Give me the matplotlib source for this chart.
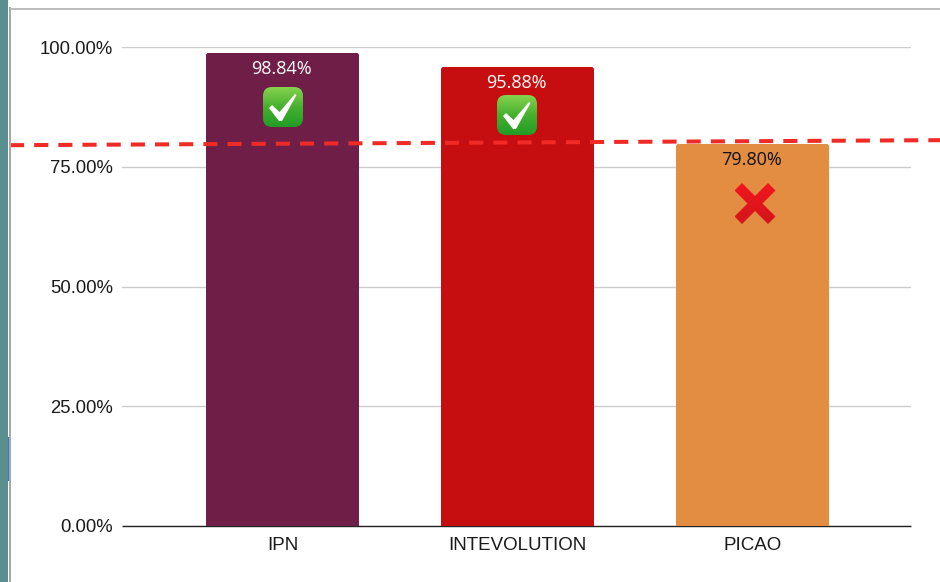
import numpy as np
import matplotlib
matplotlib.use("Agg")
import matplotlib.pyplot as plt
from matplotlib.patches import FancyBboxPatch, Rectangle, Polygon
from matplotlib.path import Path
from matplotlib.colors import LinearSegmentedColormap

categories = ["IPN", "INTEVOLUTION", "PICAO"]
values = [98.84, 95.88, 79.80]
value_labels = ["98.84%", "95.88%", "79.80%"]
bar_colors = ["#6f1f47", "#c60d10", "#e28d41"]
label_colors = ["white", "white", "#111111"]
y_ticks = [0, 25, 50, 75, 100]
y_tick_labels = ["0.00%", "25.00%", "50.00%", "75.00%", "100.00%"]
threshold_ends = [79.5, 80.55]
checks = [(283, 107), (517, 115)]
cross = (755, 203.5)

W, H = 940, 582
fig = plt.figure(figsize=(W / 100, H / 100), dpi=100, facecolor="white")
ax = fig.add_axes([122 / W, 1 - 526 / H, (911 - 122) / W, 479 / H])
ax.set_xlim(-160.5 / 235, 2 + 158.5 / 235)
ax.set_ylim(0, 100)
ax.set_facecolor("white")

bars = ax.bar(range(3), values, width=153 / 235, color=bar_colors, zorder=3)
# rounded top corners (3 px radius) via clip paths in data units
rx, ry = 3 / 235, 3 / 4.79
for b in bars:
    x0, x1, top = b.get_x(), b.get_x() + b.get_width(), b.get_height()
    verts = [(x0, 0), (x0, top - ry), (x0, top), (x0 + rx, top), (x1 - rx, top),
             (x1, top), (x1, top - ry), (x1, 0), (x0, 0)]
    codes = [Path.MOVETO, Path.LINETO, Path.CURVE3, Path.CURVE3, Path.LINETO,
             Path.CURVE3, Path.CURVE3, Path.LINETO, Path.CLOSEPOLY]
    b.set_clip_path(Path(verts, codes), ax.transData)

for i, (v, t, c) in enumerate(zip(values, value_labels, label_colors)):
    ax.annotate(t, (i, v), xytext=(-0.5, -16.5 * 0.72), textcoords="offset points",
                ha="center", va="center", color=c, fontsize=13,
                family="Open Sans", zorder=5)

ax.set_yticks(y_ticks, y_tick_labels)
ax.set_xticks(range(3), categories)
ax.tick_params(axis="both", length=0, labelsize=13.3, labelcolor="#1a1a1a")
ax.tick_params(axis="y", pad=6.5)
ax.tick_params(axis="x", pad=8.2, labelsize=13.5)
for lab in ax.get_xticklabels() + ax.get_yticklabels():
    lab.set_family("Liberation Sans")
for lab in ax.get_xticklabels():
    lab.set_x(lab.get_position()[0])
ax.grid(axis="y", color="#cccccc", lw=1, zorder=0)
ax.grid(axis="x", visible=False)
ax.set_axisbelow(True)
for s in ["top", "right", "left"]:
    ax.spines[s].set_visible(False)
ax.spines["bottom"].set_color("#222222")
ax.spines["bottom"].set_linewidth(1)
ax.spines["bottom"].set_capstyle("butt")

# threshold line, runs past the plot area
ax.plot([(10 - 122) / 789, (940 - 122) / 789], threshold_ends,
        transform=ax.get_yaxis_transform(), color="#f02b25", lw=2.9,
        dashes=(14 / 4, 10 / 4), dash_capstyle="butt", clip_on=False, zorder=6)

# overlay in screenshot pixels: window frame and emoji stickers
ov = fig.add_axes([0, 0, 1, 1], zorder=10)
ov.set_xlim(0, W)
ov.set_ylim(H, 0)
ov.axis("off")
ov.patch.set_alpha(0)
ov.add_patch(Rectangle((0, 0), 8, H, color="#5a8f8f", lw=0))
ov.add_patch(Rectangle((8, 437), 2, 44, color="#2f74d0", lw=0))
ov.plot([9.5, 9.5], [8, H], color="#a8a8a8", lw=1.5)
ov.plot([9.5, W], [8.5, 8.5], color="#b0b0b0", lw=1.2)


def grad(extent, colors, clip):
    cmap = LinearSegmentedColormap.from_list("g", colors)
    im = ov.imshow(np.linspace(0, 1, 64)[:, None], cmap=cmap, extent=extent,
                   aspect="auto", zorder=7)
    im.set_clip_path(clip)


for cx, cy in checks:
    s = 20
    box = FancyBboxPatch((cx - s + 6, cy - s + 6), 2 * s - 12, 2 * s - 12,
                         boxstyle="round,pad=6,rounding_size=9",
                         fc="none", ec="none", transform=ov.transData)
    ov.add_patch(box)
    grad((cx - s, cx + s, cy + s, cy - s), ["#86d24e", "#45b02f", "#239c25"], box)
    check = [(-14, 1), (-11, -2), (-3.5, 5), (12, -13), (13.5, -12), (-1, 14), (-4, 14)]
    ov.add_patch(Polygon([(cx + a, cy + b) for a, b in check], fc="white",
                         ec="none", zorder=8))

cx, cy = cross
a, t = 20.5, 7.5
pts = [(-a, -a + t), (-a + t, -a), (0, -t), (a - t, -a), (a, -a + t), (t, 0),
       (a, a - t), (a - t, a), (0, t), (-a + t, a), (-a, a - t), (-t, 0)]
xp = Polygon([(cx + p, cy + q) for p, q in pts], fc="none", ec="none")
ov.add_patch(xp)
grad((cx - a, cx + a, cy + a, cy - a), ["#f2161f", "#d4141b"], xp)
ov.set_xlim(0, W)
ov.set_ylim(H, 0)

fig.savefig("out.png", dpi=100, facecolor="white")
